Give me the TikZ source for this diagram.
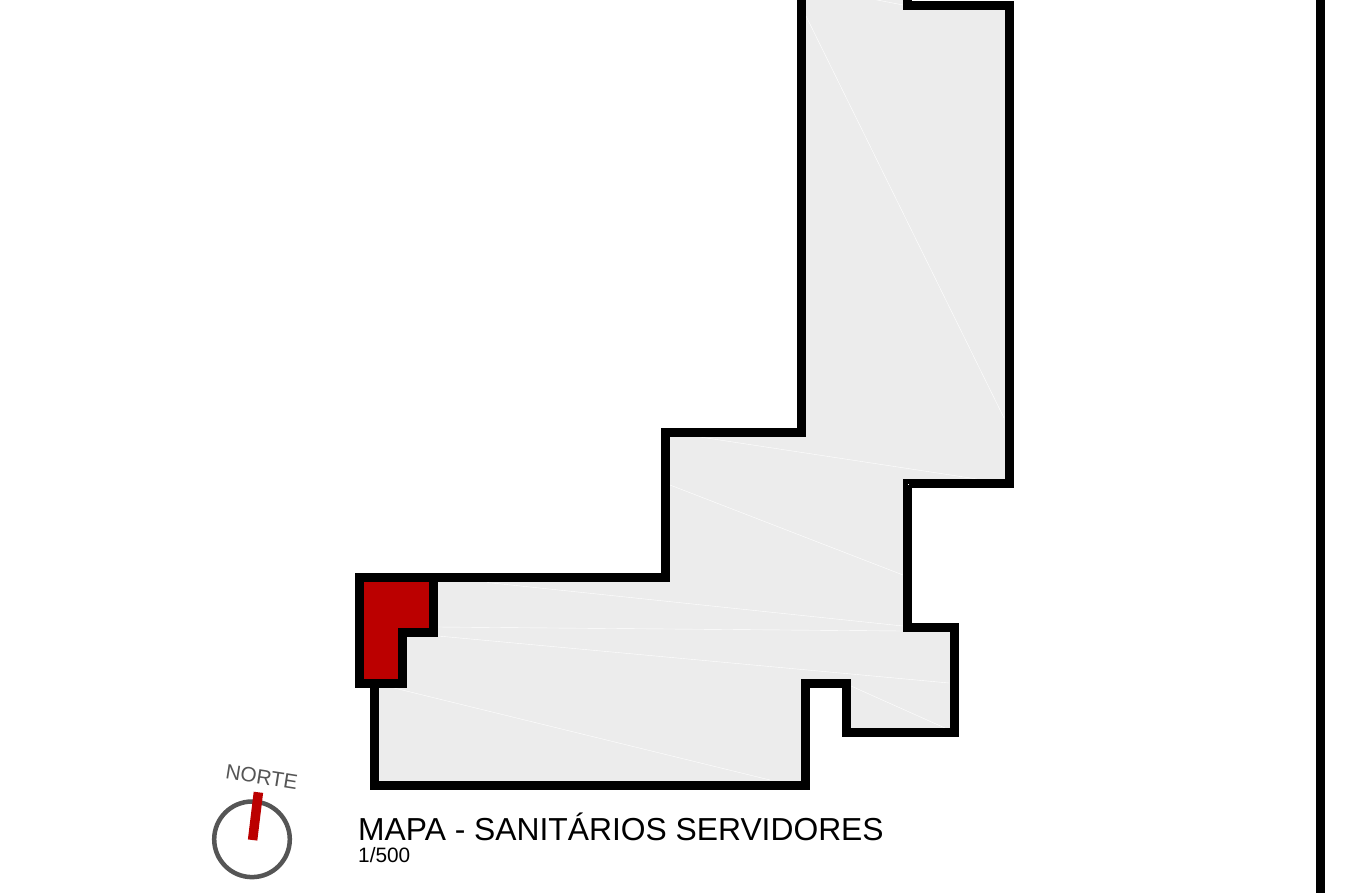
\documentclass[tikz,border=0pt]{standalone}
\usepackage{fontspec}
\setmainfont{Liberation Sans}
\definecolor{floorgrey}{HTML}{ECECEC}
\definecolor{mapred}{HTML}{BB0000}
\definecolor{compassgrey}{HTML}{555555}
\tikzset{
  wall/.style={draw=black,line width=9pt,line join=miter,miter limit=10},
  seam/.style={draw=white,line width=0.4pt},
  label/.style={inner sep=0pt,anchor=base west,text=black}
}
\begin{document}
\begin{tikzpicture}[x=1pt,y=-1pt]
\useasboundingbox (0,0) rectangle (1352,892);
\fill[white] (0,0) rectangle (1352,892);
% floor
\fill[floorgrey] (801,-8) -- (801,432.5) -- (665.3,432.5) -- (665.3,577) -- (359,577) -- (359,683) -- (374,683) -- (374,785) -- (805,785) -- (805,683.5) -- (846.7,683.5) -- (846.7,732) -- (954.3,732) -- (954.3,627) -- (907.3,627) -- (907.3,483) -- (1009.3,483) -- (1009.3,5) -- (907.3,5) -- (907.3,-8) -- cycle;
% seams
\draw[seam] (806,16) -- (1004,418);
\draw[seam] (872,-1) -- (903,5);
\draw[seam] (700,437) -- (977,479);
\draw[seam] (670,485) -- (903,575);
\draw[seam] (487,582.5) -- (903,626);
\draw[seam] (438,627) -- (903,631);
\draw[seam] (438,636) -- (949,683);
\draw[seam] (851,686) -- (945,728);
\draw[seam] (390,687) -- (770,780);
% red room
\fill[mapred] (359,577) -- (433.7,577) -- (433.7,632.3) -- (402.3,632.3) -- (402.3,683) -- (359,683) -- cycle;
% walls
\draw[wall] (801,-8) -- (801,432.5) -- (665.3,432.5) -- (665.3,577) -- (359,577) -- (359,683) -- (402.3,683) -- (402.3,632.3) -- (433.7,632.3) -- (433.7,577);
\draw[wall] (374,683) -- (374,785) -- (805,785) -- (805,683.5) -- (846.7,683.5) -- (846.7,732) -- (954.3,732) -- (954.3,627) -- (907.3,627) -- (907.3,483) -- (1009.3,483) -- (1009.3,5) -- (907.3,5) -- (907.3,-8);
\fill[white] (907.6,484) rectangle (909.4,485.4);
\draw[draw=black,line width=8.7pt] (1320.7,-8) -- (1320.7,900);
% compass
\draw[compassgrey,line width=4.5pt] (252,839.3) circle (37.8);
\draw[mapred,line width=9.5pt] (252.6,840) -- (258.4,792.3);
\node[rotate=-9,text=compassgrey,inner sep=0pt,font=\fontsize{20.8}{24}\selectfont] (norte) at (261.7,777) {NORTE};
% titles
\node[label,font=\fontsize{31.8}{36}\selectfont] (title) at (358,840) {MAPA - SANITÁRIOS SERVIDORES};
\node[label,font=\fontsize{20.8}{24}\selectfont] (scale) at (358,862.6) {1/500};
\end{tikzpicture}
\end{document}
